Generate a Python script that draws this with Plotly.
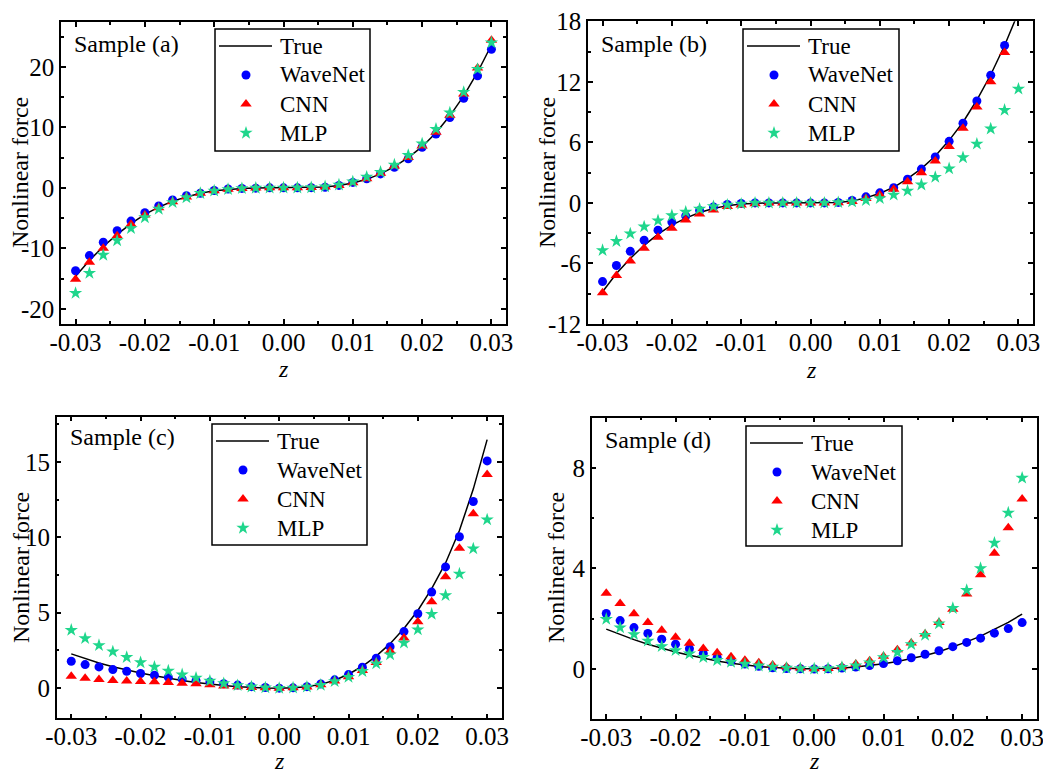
import plotly.graph_objects as go

W, H = 1043, 770

z = [-0.030, -0.028, -0.026, -0.024, -0.022, -0.020, -0.018, -0.016, -0.014, -0.012, -0.010,
     -0.008, -0.006, -0.004, -0.002, 0.000, 0.002, 0.004, 0.006, 0.008, 0.010,
     0.012, 0.014, 0.016, 0.018, 0.020, 0.022, 0.024, 0.026, 0.028, 0.030]

# ---- Sample (a)
a_true = [-14.6, -12.0, -9.7, -7.7, -5.9, -4.4, -3.2, -2.2, -1.5, -0.9, -0.5,
          -0.25, -0.1, -0.03, 0.0, 0.0, 0.01, 0.05, 0.15, 0.4, 0.8,
          1.4, 2.3, 3.5, 5.0, 6.8, 9.1, 11.9, 15.2, 19.1, 23.6]
a_wave = [-13.7, -11.2, -9.0, -7.1, -5.5, -4.1, -3.0, -2.0, -1.3, -0.9, -0.45,
          -0.2, -0.1, -0.05, 0.0, 0.0, 0.0, 0.03, 0.1, 0.4, 0.9,
          1.5, 2.3, 3.4, 4.8, 6.7, 8.9, 11.6, 14.8, 18.5, 22.9]
a_cnn = [-15.1, -12.3, -10.0, -7.9, -6.0, -4.5, -3.3, -2.3, -1.5, -0.9, -0.5,
         -0.25, -0.1, -0.03, 0.0, 0.0, 0.01, 0.05, 0.15, 0.4, 0.85,
         1.5, 2.4, 3.6, 5.0, 6.9, 9.2, 12.0, 15.5, 19.8, 24.4]
a_mlp = [-17.4, -14.1, -11.1, -8.7, -6.7, -4.9, -3.5, -2.4, -1.6, -0.9, -0.5,
         -0.25, -0.1, -0.03, 0.0, 0.0, 0.01, 0.05, 0.2, 0.5, 1.0,
         1.8, 2.6, 3.8, 5.4, 7.3, 9.7, 12.4, 15.8, 19.6, 24.0]

# ---- Sample (b)
b_true = [-8.8, -7.0, -5.5, -4.2, -3.1, -2.2, -1.5, -0.95, -0.55, -0.27, -0.1,
          -0.03, 0.0, 0.0, 0.0, 0.0, 0.0, 0.05, 0.2, 0.5, 0.95,
          1.55, 2.4, 3.4, 4.65, 6.2, 8.0, 10.2, 12.7, 15.6, 18.9]
b_wave = [-7.8, -6.2, -4.8, -3.7, -2.7, -1.9, -1.3, -0.75, -0.4, -0.15, -0.05,
          0.0, 0.0, 0.0, 0.0, 0.0, 0.0, 0.05, 0.25, 0.6, 1.0,
          1.5, 2.35, 3.35, 4.55, 6.1, 7.9, 10.1, 12.65, 15.6, None]
b_cnn = [-8.9, -7.2, -5.75, -4.5, -3.4, -2.5, -1.7, -1.1, -0.7, -0.35, -0.2,
         -0.07, 0.0, 0.0, 0.0, 0.0, 0.0, 0.02, 0.15, 0.45, 0.8,
         1.35, 2.1, 3.0, 4.15, 5.6, 7.4, 9.5, 12.0, 14.9, None]
b_mlp = [-4.7, -3.8, -3.05, -2.35, -1.75, -1.25, -0.9, -0.6, -0.35, -0.2, -0.1,
         0.0, 0.0, 0.0, 0.0, 0.0, 0.0, 0.05, 0.12, 0.25, 0.45,
         0.8, 1.2, 1.8, 2.55, 3.4, 4.5, 5.85, 7.35, 9.2, 11.3]

# ---- Sample (c)
c_true = [2.27, 1.95, 1.67, 1.42, 1.2, 1.0, 0.82, 0.65, 0.5, 0.37, 0.26,
          0.17, 0.1, 0.05, 0.01, 0.0, 0.02, 0.09, 0.25, 0.52, 0.92,
          1.45, 2.12, 2.95, 3.95, 5.15, 6.6, 8.3, 10.45, 13.2, 16.48]
c_wave = [1.78, 1.56, 1.41, 1.23, 1.12, 0.97, 0.86, 0.73, 0.6, 0.5, 0.4,
          0.29, 0.2, 0.1, 0.04, 0.0, 0.02, 0.1, 0.28, 0.55, 0.9,
          1.39, 1.98, 2.75, 3.75, 4.93, 6.37, 8.04, 10.04, 12.38, 15.07]
c_cnn = [0.79, 0.66, 0.57, 0.51, 0.48, 0.44, 0.42, 0.37, 0.33, 0.29, 0.22,
         0.15, 0.1, 0.05, 0.02, 0.0, 0.02, 0.08, 0.22, 0.48, 0.75,
         1.17, 1.7, 2.47, 3.33, 4.4, 5.73, 7.38, 9.27, 11.56, 14.16]
c_mlp = [3.85, 3.3, 2.84, 2.42, 2.05, 1.7, 1.41, 1.15, 0.9, 0.68, 0.48,
         0.31, 0.18, 0.09, 0.03, 0.0, 0.02, 0.08, 0.2, 0.45, 0.73,
         1.12, 1.63, 2.22, 3.0, 3.88, 4.91, 6.15, 7.58, 9.25, 11.17]

# ---- Sample (d)
d_true = [1.58, 1.36, 1.16, 0.98, 0.82, 0.67, 0.54, 0.42, 0.31, 0.22, 0.15,
          0.09, 0.05, 0.02, 0.005, 0.0, 0.01, 0.03, 0.07, 0.13, 0.2,
          0.29, 0.4, 0.53, 0.68, 0.86, 1.07, 1.3, 1.56, 1.85, 2.18]
d_wave = [2.2, 1.92, 1.64, 1.41, 1.18, 0.98, 0.8, 0.61, 0.45, 0.3, 0.19,
          0.1, 0.04, 0.01, 0.0, -0.01, 0.0, 0.03, 0.07, 0.13, 0.21,
          0.32, 0.44, 0.58, 0.72, 0.88, 1.05, 1.22, 1.42, 1.6, 1.84]
d_cnn = [3.01, 2.6, 2.19, 1.84, 1.53, 1.26, 1.02, 0.81, 0.64, 0.48, 0.34,
         0.24, 0.15, 0.08, 0.03, 0.0, 0.01, 0.08, 0.19, 0.32, 0.5,
         0.76, 1.03, 1.39, 1.84, 2.37, 2.98, 3.75, 4.6, 5.62, 6.76]
d_mlp = [1.98, 1.64, 1.37, 1.11, 0.89, 0.73, 0.6, 0.46, 0.34, 0.27, 0.19,
         0.12, 0.07, 0.03, 0.01, 0.0, 0.01, 0.06, 0.12, 0.24, 0.45,
         0.66, 0.97, 1.34, 1.8, 2.41, 3.13, 4.0, 5.01, 6.21, 7.6]

x_ticks = [-0.03, -0.02, -0.01, 0.0, 0.01, 0.02, 0.03]
x_ticklabels = ["-0.03", "-0.02", "-0.01", "0.00", "0.01", "0.02", "0.03"]
a_yticks = [-20, -10, 0, 10, 20]
b_yticks = [-12, -6, 0, 6, 12, 18]
c_yticks = [0, 5, 10, 15]
d_yticks = [0, 4, 8]
series_names = ["True", "WaveNet", "CNN", "MLP"]

panels = [
    dict(name="Sample (a)", true=a_true, wave=a_wave, cnn=a_cnn, mlp=a_mlp,
         yrange=[-22.5, 27.4], yticks=a_yticks, yminor=5,
         box=(61, 506, 22, 324), legbox=(215, 29, 155, 122),
         ytitle=(20, 173), ztitle=(283, 369), label=(72, 44)),
    dict(name="Sample (b)", true=b_true, wave=b_wave, cnn=b_cnn, mlp=b_mlp,
         yrange=[-12, 18], yticks=b_yticks, yminor=3,
         box=(588, 1033, 21.3, 324), legbox=(743, 29, 156, 122),
         ytitle=(547, 173), ztitle=(811, 370), label=(599, 44)),
    dict(name="Sample (c)", true=c_true, wave=c_wave, cnn=c_cnn, mlp=c_mlp,
         yrange=[-2, 18], yticks=c_yticks, yminor=2.5,
         box=(56.7, 501.7, 416.7, 718.3), legbox=(212, 424, 155, 121),
         ytitle=(21, 568), ztitle=(279, 761), label=(68, 437)),
    dict(name="Sample (d)", true=d_true, wave=d_wave, cnn=d_cnn, mlp=d_mlp,
         yrange=[-2, 10], yticks=d_yticks, yminor=2,
         box=(591.7, 1036.7, 417.7, 719), legbox=(746, 426, 156, 120),
         ytitle=(556, 568), ztitle=(814, 761), label=(603, 440)),
]

FONT = "Liberation Serif, Times New Roman, serif"
FS_TICK = 25
FS_TITLE = 24
FS_LEG = 23
STAR = "#1fd68c"
styles = [
    dict(mode="lines", line=dict(color="black", width=1.5)),
    dict(mode="markers", marker=dict(symbol="circle", size=9, color="#0000ff")),
    dict(mode="markers", marker=dict(symbol="triangle-up", size=10, color="#ff0000")),
    dict(mode="markers", marker=dict(symbol="star", size=10, color=STAR, line=dict(width=0))),
]

fig = go.Figure()
layout = dict(
    width=W, height=H, margin=dict(l=0, r=0, t=0, b=0, autoexpand=False),
    paper_bgcolor="white", plot_bgcolor="rgba(0,0,0,0)",
    font=dict(family=FONT, size=FS_TICK, color="black"),
    showlegend=False,
    # overlay axis in pixel units, used only for the legend samples
    xaxis5=dict(domain=[0, 1], range=[0, W], visible=False, fixedrange=True,
                automargin=False, anchor="y5", showgrid=False, zeroline=False),
    yaxis5=dict(domain=[0, 1], range=[H, 0], visible=False, fixedrange=True,
                automargin=False, anchor="x5", showgrid=False, zeroline=False),
)
annotations = []
shapes = []
legend_traces = []

for i, p in enumerate(panels):
    k = "" if i == 0 else str(i + 1)
    xa, ya = "x" + k, "y" + k
    x0, x1, y0, y1 = p["box"]
    common = dict(showline=True, linecolor="black", linewidth=1.5, mirror="ticks",
                  ticks="inside", ticklen=5, tickwidth=1.5, tickcolor="black",
                  showgrid=False, zeroline=False, automargin=False,
                  ticklabeloverflow="allow", tickmode="array",
                  tickfont=dict(family=FONT, size=FS_TICK, color="black"))
    layout["xaxis" + k] = dict(
        domain=[x0 / W, x1 / W], range=[-0.0321, 0.0321], anchor=ya,
        tickvals=x_ticks, ticktext=x_ticklabels,
        ticklabelstandoff=-5,
        minor=dict(ticks="inside", ticklen=3, tickwidth=1.5, tickcolor="black", dtick=0.005, tick0=0),
        **common)
    layout["yaxis" + k] = dict(
        domain=[1 - y1 / H, 1 - y0 / H], range=p["yrange"], anchor=xa,
        tickvals=p["yticks"], ticktext=[str(v) for v in p["yticks"]],
        minor=dict(ticks="inside", ticklen=3, tickwidth=1.5, tickcolor="black", dtick=p["yminor"], tick0=0),
        **common)
    ys = [p["true"], p["wave"], p["cnn"], p["mlp"]]
    for name, yv, st in zip(series_names, ys, styles):
        fig.add_trace(go.Scatter(x=z, y=yv, name=name, xaxis=xa, yaxis=ya, **st))

    # legend box
    lx, ly, lw, lh = p["legbox"]
    shapes.append(dict(type="rect", xref="paper", yref="paper",
                       x0=lx / W, x1=(lx + lw) / W, y0=1 - (ly + lh) / H, y1=1 - ly / H,
                       line=dict(color="black", width=1.5), layer="above"))
    for j, (name, st) in enumerate(zip(series_names, styles)):
        ry = ly + 17 + 29 * j
        if j == 0:
            legend_traces.append(go.Scatter(x=[lx + 4, lx + 57], y=[ry, ry], xaxis="x5", yaxis="y5",
                                            hoverinfo="skip", **st))
        else:
            legend_traces.append(go.Scatter(x=[lx + 31], y=[ry], xaxis="x5", yaxis="y5",
                                            hoverinfo="skip", **st))
        annotations.append(dict(text=name, xref="paper", yref="paper",
                                x=(lx + 63) / W, y=1 - ry / H, xanchor="left", yanchor="middle",
                                showarrow=False, font=dict(family=FONT, size=FS_LEG, color="black")))

    annotations.append(dict(text=p["name"], xref="paper", yref="paper",
                            x=p["label"][0] / W, y=1 - p["label"][1] / H,
                            xanchor="left", yanchor="middle", showarrow=False,
                            font=dict(family=FONT, size=FS_TITLE, color="black")))
    annotations.append(dict(text="Nonlinear force", xref="paper", yref="paper",
                            x=p["ytitle"][0] / W, y=1 - p["ytitle"][1] / H, textangle=-90,
                            xanchor="center", yanchor="middle", showarrow=False,
                            font=dict(family=FONT, size=FS_TITLE, color="black")))
    annotations.append(dict(text="<i>z</i>", xref="paper", yref="paper",
                            x=p["ztitle"][0] / W, y=1 - p["ztitle"][1] / H,
                            xanchor="center", yanchor="middle", showarrow=False,
                            font=dict(family=FONT, size=FS_TITLE, color="black")))

for t in legend_traces:
    fig.add_trace(t)

layout["annotations"] = annotations
layout["shapes"] = shapes
fig.update_layout(**layout)
fig.write_html("out.html", config={"displayModeBar": False},
               post_script="document.body.style.margin='0px';")
